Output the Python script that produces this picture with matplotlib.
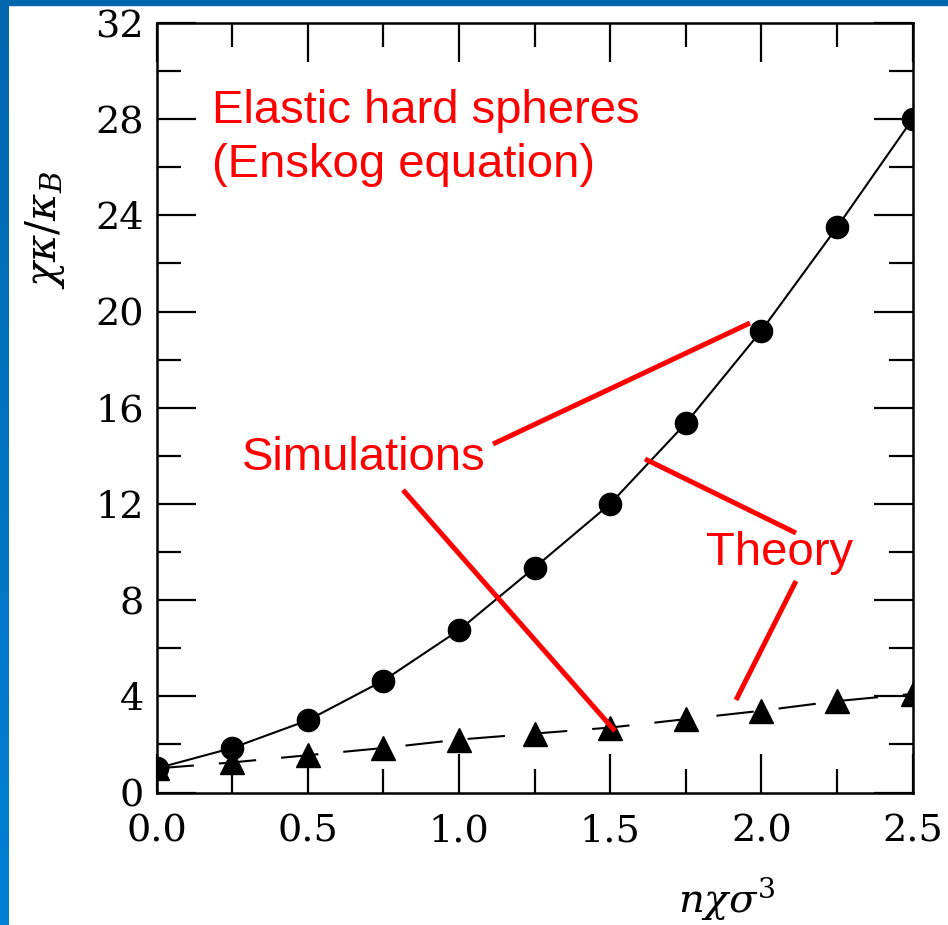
import numpy as np
import matplotlib.pyplot as plt
from matplotlib.lines import Line2D
from matplotlib.patches import Rectangle
from matplotlib.ticker import MultipleLocator

W, H = 948, 925

# reduced density n*chi*sigma^3
density = [0.0, 0.25, 0.5, 0.75, 1.0, 1.25, 1.5, 1.75, 2.0, 2.25, 2.5]
# chi*kappa/kappa_B, circles and triangles
kappa_circles = [1.0, 1.85, 3.0, 4.65, 6.75, 9.35, 12.0, 15.35, 19.2, 23.5, 28.0]
kappa_triangles = [1.0, 1.25, 1.55, 1.85, 2.2, 2.45, 2.7, 3.05, 3.4, 3.8, 4.1]

xticks = [0.0, 0.5, 1.0, 1.5, 2.0, 2.5]
yticks = [0, 4, 8, 12, 16, 20, 24, 28, 32]


def px(x, y):
    # pixel position (from top left) -> figure fraction
    return x / W, 1 - y / H


plt.rcParams['mathtext.fontset'] = 'dejavuserif'

fig = plt.figure(figsize=(W / 100, H / 100), dpi=100)
fig.patch.set_facecolor('white')

ax = fig.add_axes([156.5 / W, 1 - 792.5 / H, 756 / W, 769.5 / H])
ax.plot(density, kappa_circles, color='black', lw=1.5,
        marker='o', ms=16, mfc='black', mec='black')
ax.plot(density, kappa_triangles, color='black', lw=1.5, ls=(0, (18, 12)),
        marker='^', ms=17, mfc='black', mec='black')

ax.set_xlim(0, 2.5)
ax.set_ylim(0, 32)
ax.set_xticks(xticks)
ax.set_xticklabels([f'{t:.1f}' for t in xticks])
ax.set_yticks(yticks)
ax.xaxis.set_minor_locator(MultipleLocator(0.25))
ax.yaxis.set_minor_locator(MultipleLocator(2))
ax.tick_params(which='both', direction='in', top=True, right=True, width=1.6,
               labelsize=27.5, labelfontfamily='DejaVu Serif')
ax.tick_params(which='major', length=28)
ax.tick_params(which='minor', length=17)
ax.tick_params(axis='x', pad=15)
ax.tick_params(axis='y', pad=9)
for s in ax.spines.values():
    s.set_linewidth(1.8)

fig.text(*px(45, 230), r'$\chi\kappa/\kappa_B$', rotation=90, fontsize=30,
         ha='center', va='center')
fig.text(*px(727, 898), r'$n\chi\sigma^3$', fontsize=29,
         ha='center', va='center')

# red annotations
red = '#ff0000'
tkw = dict(color=red, fontsize=34, family='Liberation Sans', ha='left', va='baseline')
fig.text(*px(212, 123), 'Elastic hard spheres', **tkw)
fig.text(*px(212, 177), '(Enskog equation)', **tkw)
fig.text(*px(242, 470), 'Simulations', **tkw)
fig.text(*px(706, 565), 'Theory', **tkw)

pointers = [((493, 444), (750, 323)),
            ((403, 490), (615, 731)),
            ((645, 459), (796, 533)),
            ((796, 581), (736, 700))]
for (x0, y0), (x1, y1) in pointers:
    a, b = px(x0, y0)
    c, d = px(x1, y1)
    fig.add_artist(Line2D([a, c], [b, d], color=red, lw=3.6,
                          solid_capstyle='butt', transform=fig.transFigure))

# blue slide frame
fig.add_artist(Rectangle((0, 1 - 5 / H), 1, 5 / H, color='#0067ae',
                         transform=fig.transFigure))
band = fig.add_axes([0, 0, 9 / W, 1])
grad = np.linspace(0, 1, 256).reshape(-1, 1)
band.imshow(grad, aspect='auto', extent=[0, 1, 0, 1], origin='upper',
            cmap=plt.matplotlib.colors.LinearSegmentedColormap.from_list(
                'frame', ['#0067ae', '#0080d6']))
band.axis('off')

fig.savefig('out.png', dpi=100)
